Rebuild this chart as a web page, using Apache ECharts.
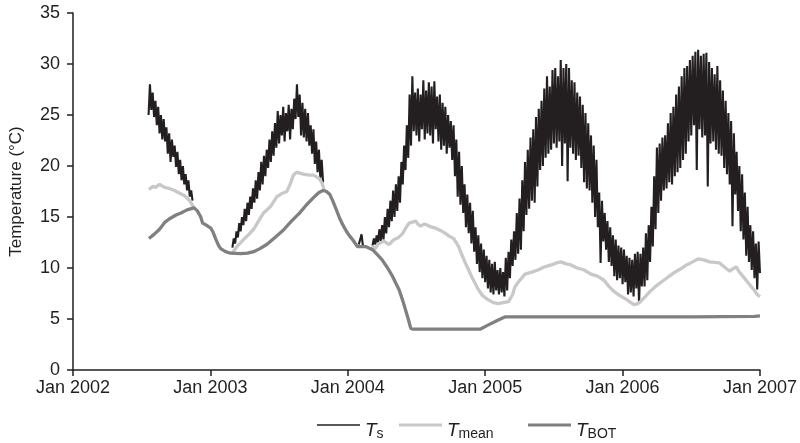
<!DOCTYPE html>
<html>
<head>
<meta charset="utf-8">
<script src="https://cdn.jsdelivr.net/npm/echarts@6/dist/echarts.min.js"></script>
<style>html,body{margin:0;padding:0;background:#fff}#c{width:800px;height:443px}</style>
</head>
<body>
<div id="c"></div>
<script>
// ---- Data (decimal years, °C) ----
const xTicks = [2002, 2003, 2004, 2005, 2006, 2007];
const yTicks = [0, 5, 10, 15, 20, 25, 30, 35];
const tsStep = 0.01; // sampling step of Ts (years)

// Ts segments: start year + values sampled every tsStep
const tsSeg1Start = 2002.55;
const tsSeg1 = [25.0,28.0,25.5,27.2,24.8,26.4,24.0,25.8,23.2,25.0,22.6,24.6,22.4,23.8,21.2,23.2,20.4,22.6,20.9,22.0,19.9,21.4,19.2,20.6,18.6,20.0,18.2,19.2,17.6,18.6,17.0,17.6,16.6];
const tsSeg2Start = 2003.16;
const tsSeg2 = [12.0,12.9,12.4,13.6,13.0,14.4,13.6,15.0,14.2,15.8,14.6,16.4,15.2,17.0,15.8,17.8,16.4,18.6,16.8,19.4,17.6,20.4,18.2,21.0,19.0,21.6,19.8,22.6,20.4,23.4,21.0,24.2,21.8,25.4,22.2,25.0,23.0,25.8,22.4,25.2,23.4,26.0,22.6,25.6,23.6,26.6,24.6,28.0,24.8,27.0,23.0,26.2,22.8,25.6,22.4,25.2,22.0,24.0,21.2,23.6,20.2,22.4,19.4,21.6,18.8,20.6,18.4];
const tsSeg3Start = 2004.08;
const tsSeg3 = [12.3,12.8,13.3,12.2];
const tsSeg4Start = 2004.18;
const tsSeg4 = [12.2,12.9,
12.3,13.2,12.5,13.8,12.6, 14.2,12.8,15.0,13.4,15.8, 14.0,16.6,14.6,17.6,15.0, 18.2,15.6,19.0,16.4,20.4,
18.2,22.0,19.6,24.0,20.8, 27.0,22.0,28.8,23.4,27.2, 23.0,27.6,22.4,27.0,23.6, 28.4,22.6,27.4,23.2,28.2,
23.0,27.8,22.2,28.3,23.6, 26.8,22.4,27.0,21.6,26.2, 22.0,25.8,21.2,25.0,21.8, 24.4,20.6,24.0,19.0,22.6,
17.0,21.4,16.2,20.0,15.4, 18.2,14.0,17.2,13.4,16.4, 12.4,15.6,11.6,14.0,10.4, 13.2,9.6,12.4,9.0,11.8,
8.6,11.2,8.0,10.8,7.6, 10.4,7.4,10.6,7.8,9.8, 7.4,10.0,7.6,9.6,7.2, 11.0,7.8,11.6,9.0,12.8,
10.2,13.6,10.8,15.4,11.4, 16.8,11.8,18.6,13.6,20.4, 15.2,21.6,15.8,22.8,16.6, 23.6,16.4,24.8,18.0,25.6,
19.6,26.4,20.0,27.6,20.8, 28.8,21.2,27.8,21.6,29.4, 22.2,29.6,21.8,28.8,22.4, 30.4,20.0,29.6,22.2,30.0,
18.5,29.6,21.8,28.4,21.2, 28.2,20.6,27.2,21.0,26.8, 19.8,26.0,18.4,25.2,17.8, 24.2,17.6,23.0,16.4,22.0,
15.0,20.6,14.0,17.4,10.5, 16.6,12.6,15.4,11.8,14.6, 10.6,14.0,10.2,13.2,9.2, 12.8,8.8,12.2,9.0,12.0,
8.4,11.8,8.6,11.2,7.4, 11.0,7.6,10.8,7.2,11.4, 8.0,11.6,6.5,11.4,8.2, 12.0,8.2,13.4,8.8,14.2,
10.6,16.0,12.1,19.0,13.8, 21.8,15.4,22.2,16.6,22.8, 17.6,23.0,17.8,24.2,18.4, 25.2,18.2,25.8,19.0,27.0,
19.4,27.8,19.8,28.8,20.6, 29.6,21.2,29.8,22.4,30.4, 23.0,30.8,24.0,31.2,19.6, 31.4,23.6,30.8,22.8,31.0,
23.0,31.1,18.0,30.2,22.2, 29.6,22.4,29.0,21.6,29.8, 21.2,28.4,21.0,27.4,19.8, 26.4,19.2,25.2,18.2,24.4,
14.1,23.2,17.2,21.4,15.6, 20.0,13.6,19.2,12.8,17.4, 11.2,16.0,10.6,14.2,9.8, 13.6,9.0,12.4,7.9,12.6,
9.5];

// Tmean segments [year, °C]
const tmeanSeg1 = [[2002.553,17.7],[2002.58,18.0],[2002.60,17.9],[2002.63,18.2],[2002.666,17.9],[2002.70,17.8],[2002.74,17.6],[2002.78,17.3],[2002.81,17.1],[2002.85,16.6],[2002.88,15.9]];
const tmeanSeg2 = [[2003.16,11.5],[2003.20,12.2],[2003.243,12.8],[2003.28,13.3],[2003.315,13.8],[2003.35,14.6],[2003.387,15.4],[2003.436,16.0],[2003.484,17.0],[2003.52,17.3],[2003.556,17.5],[2003.58,18.2],[2003.604,19.1],[2003.628,19.4],[2003.676,19.2],[2003.72,19.1],[2003.75,19.1],[2003.79,18.8],[2003.81,18.4],[2003.83,17.6]];
const tmeanSeg3 = [[2004.17,12.1],[2004.2,11.9],[2004.217,12.3],[2004.24,12.5],[2004.265,12.6],[2004.30,12.3],[2004.338,12.8],[2004.37,13.0],[2004.40,13.4],[2004.425,14.0],[2004.446,14.4],[2004.47,14.5],[2004.494,14.6],[2004.51,14.3],[2004.53,14.1],[2004.555,14.3],[2004.58,14.2],[2004.61,14.0],[2004.64,13.9],[2004.686,13.6],[2004.71,13.4],[2004.74,13.1],[2004.77,12.9],[2004.807,12.1],[2004.83,11.3],[2004.855,10.5],[2004.88,9.8],[2004.90,9.2],[2004.93,8.4],[2004.95,7.9],[2004.98,7.3],[2005.02,6.9],[2005.06,6.6],[2005.095,6.5],[2005.13,6.6],[2005.17,6.7],[2005.20,7.4],[2005.215,8.1],[2005.24,8.6],[2005.29,9.4],[2005.34,9.6],[2005.384,9.8],[2005.43,10.1],[2005.48,10.3],[2005.52,10.5],[2005.55,10.6],[2005.59,10.4],[2005.624,10.3],[2005.67,10.0],[2005.72,9.8],[2005.77,9.4],[2005.817,9.2],[2005.865,8.8],[2005.90,8.2],[2005.937,7.7],[2005.98,7.3],[2006.03,6.9],[2006.06,6.6],[2006.086,6.4],[2006.11,6.5],[2006.13,6.7],[2006.165,7.2],[2006.20,7.7],[2006.25,8.3],[2006.30,8.8],[2006.37,9.5],[2006.42,9.9],[2006.466,10.3],[2006.51,10.6],[2006.55,10.9],[2006.59,10.8],[2006.634,10.6],[2006.706,10.5],[2006.75,10.0],[2006.78,9.7],[2006.80,9.9],[2006.827,10.1],[2006.85,9.6],[2006.875,9.2],[2006.905,8.7],[2006.935,8.2],[2006.96,7.8],[2006.98,7.4],[2007.0,7.2]];

// TBOT [year, °C]
const tbot = [[2002.553,12.9],[2002.59,13.3],[2002.63,13.8],[2002.67,14.5],[2002.70,14.8],[2002.75,15.2],[2002.786,15.4],[2002.83,15.7],[2002.88,15.9],[2002.905,15.6],[2002.93,15.0],[2002.943,14.4],[2002.97,14.2],[2003.003,13.9],[2003.02,13.5],[2003.04,12.8],[2003.06,12.2],[2003.075,11.9],[2003.11,11.6],[2003.147,11.45],[2003.22,11.4],[2003.27,11.45],[2003.315,11.6],[2003.36,11.9],[2003.41,12.3],[2003.47,13.0],[2003.53,13.7],[2003.59,14.6],[2003.65,15.4],[2003.70,16.2],[2003.75,16.9],[2003.79,17.4],[2003.82,17.6],[2003.845,17.5],[2003.87,17.2],[2003.89,16.6],[2003.917,15.7],[2003.94,14.9],[2003.965,14.2],[2003.99,13.6],[2004.01,13.2],[2004.04,12.7],[2004.07,12.1],[2004.13,12.1],[2004.18,11.8],[2004.215,11.3],[2004.25,10.8],[2004.29,10.0],[2004.325,9.2],[2004.35,8.5],[2004.374,7.85],[2004.40,6.8],[2004.42,5.9],[2004.44,5.0],[2004.458,4.1],[2004.475,4.0],[2004.963,4.0],[2005.02,4.4],[2005.095,4.9],[2005.143,5.2],[2005.5,5.2],[2006.0,5.2],[2006.5,5.2],[2006.96,5.25],[2007.0,5.3]];

// ---- Build series data ----
function seg(start, vals) { return vals.map((v, i) => [+(start + i * tsStep).toFixed(3), v]); }
const GAP = ['-', '-'];
const tsData = [].concat(seg(tsSeg1Start, tsSeg1), [GAP], seg(tsSeg2Start, tsSeg2), [GAP], seg(tsSeg3Start, tsSeg3), [GAP], seg(tsSeg4Start, tsSeg4));
const tmeanData = [].concat(tmeanSeg1, [GAP], tmeanSeg2, [GAP], tmeanSeg3);

const FONT = '"Liberation Sans", Arial, Helvetica, sans-serif';
const INK = '#231f20';
const C_MEAN = '#c8c8c8';
const C_BOT = '#808080';
const rich = {
  t: { fontFamily: FONT, fontStyle: 'italic', fontSize: 19, color: INK, verticalAlign: 'middle', padding: [11, 0, 0, 0] },
  s: { fontFamily: FONT, fontSize: 14, color: INK, padding: [19, 0, 0, 0], verticalAlign: 'middle' }
};
const subs = { Ts: 's', Tmean: 'mean', TBOT: 'BOT' };
function legendFor(name, left, h, top) {
  return {
    data: [{ name: name, icon: 'rect' }], left: left, top: top, padding: 0,
    itemWidth: 43, itemHeight: h, itemGap: 0,
    formatter: n => '{t|T}{s|' + subs[n] + '}',
    textStyle: { rich: rich }
  };
}

const chart = echarts.init(document.getElementById('c'), null, { renderer: 'canvas' });
chart.setOption({
  animation: false,
  backgroundColor: '#ffffff',
  grid: { left: 71, right: 36, top: 13, bottom: 73 },
  legend: [legendFor('Ts', 317, 1.5, 421), legendFor('Tmean', 399, 3, 421), legendFor('TBOT', 528, 3, 421)],
  xAxis: {
    type: 'value', min: xTicks[0], max: xTicks[xTicks.length - 1], interval: 1,
    axisLine: { show: true, lineStyle: { color: INK, width: 1.5 } },
    axisTick: { show: true, length: 6, lineStyle: { color: INK, width: 1.5 } },
    axisLabel: { color: INK, fontFamily: FONT, fontSize: 18, margin: 9, formatter: v => 'Jan ' + v },
    splitLine: { show: false }
  },
  yAxis: {
    type: 'value', min: yTicks[0], max: yTicks[yTicks.length - 1], interval: 5,
    name: 'Temperature (°C)', nameLocation: 'middle', nameGap: 48,
    nameTextStyle: { color: INK, fontFamily: FONT, fontSize: 17 },
    axisLine: { show: true, lineStyle: { color: INK, width: 1.5 } },
    axisTick: { show: true, length: 6, lineStyle: { color: INK, width: 1.5 } },
    axisLabel: { color: INK, fontFamily: FONT, fontSize: 18, margin: 13 },
    splitLine: { show: false }
  },
  series: [
    { name: 'Ts', type: 'line', data: tsData, symbol: 'none', connectNulls: false,
      lineStyle: { color: INK, width: 2.1, join: 'bevel' }, itemStyle: { color: INK }, z: 2 },
    { name: 'Tmean', type: 'line', data: tmeanData, symbol: 'none', connectNulls: false,
      lineStyle: { color: C_MEAN, width: 3.3 }, itemStyle: { color: C_MEAN }, z: 3 },
    { name: 'TBOT', type: 'line', data: tbot, symbol: 'none',
      lineStyle: { color: C_BOT, width: 3.3 }, itemStyle: { color: C_BOT }, z: 4 }
  ]
});
</script>
</body>
</html>
